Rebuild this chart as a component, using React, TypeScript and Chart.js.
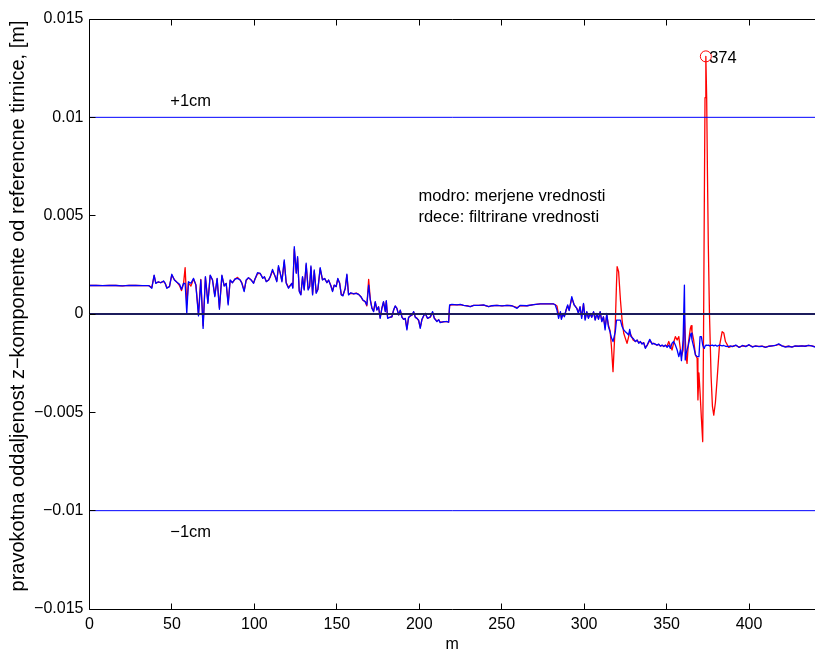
import React, { useEffect, useRef } from 'react';
import { Chart, registerables } from 'chart.js';

Chart.register(...registerables);

// distance along the track [m]
const distance = [
  0, 4, 8, 12, 16, 20, 24, 28, 32, 36, 37.8, 39.2, 40.2, 41.8, 43.2, 44.9, 45.9, 46.9, 48.5, 49.9,
  51.5, 53.0, 54.6, 55.8, 57.0, 58.0, 59.0, 60.0, 61.5, 63.1, 64.5, 66.1, 67.5, 68.9, 70.3, 71.8, 73.2, 74.6, 76.0, 77.4,
  78.8, 80.3, 81.7, 82.9, 84.1, 85.3, 86.7, 88.3, 89.8, 91.4, 92.4, 93.8, 95.0, 96.4, 98.0, 99.5, 100.5, 101.9, 103.5, 105.1,
  106.1, 107.2, 108.6, 109.6, 111.0, 112.6, 113.6, 114.6, 115.7, 116.7, 118.1, 119.3, 120.7, 122.7, 123.3, 124.2, 125.4, 126.2, 127.2, 128.2,
  129.2, 130.2, 131.4, 132.6, 133.5, 134.3, 135.3, 136.3, 137.5, 138.5, 139.9, 141.3, 142.6, 144.0, 145.0, 146.4, 147.4, 148.4, 149.6, 150.6,
  151.7, 152.7, 153.7, 155.1, 156.1, 157.1, 158.5, 160.2, 161.8, 163.2, 164.6, 165.8, 167.2, 168.2, 169.3, 170.3, 171.3, 172.3, 173.3, 174.3,
  175.3, 176.3, 177.3, 178.3, 179.4, 180.0, 180.8, 182.0, 183.4, 184.4, 185.4, 186.4, 187.5, 188.5, 189.5, 190.5, 191.5, 192.5, 193.5, 194.5,
  195.6, 196.6, 197.6, 198.6, 199.6, 200.6, 201.6, 202.6, 203.6, 205.0, 206.7, 208.1, 209.1, 210.7, 211.8, 212.7, 214.8, 216.8, 217.8, 218.4,
  219.8, 222.9, 224.9, 226.9, 228.9, 230.9, 233.0, 236.0, 239.0, 242.1, 244.1, 247.1, 250.2, 253.2, 256.2, 259.3, 261.3, 265.3, 269.4, 273.4,
  277.5, 281.5, 282.5, 283.5, 284.5, 285.6, 286.2, 287.2, 288.0, 289.0, 290.0, 290.9, 292.5, 293.9, 295.5, 296.5, 297.5, 298.5, 299.6, 300.6,
  301.6, 302.6, 303.6, 304.6, 305.7, 306.7, 307.7, 308.7, 309.7, 310.7, 311.7, 312.7, 313.7, 314.7, 315.7, 316.5, 317.5, 318.9, 319.6, 320.0,
  320.9, 322.0, 323.0, 324.0, 325.0, 326.0, 327.0, 327.6, 328.4, 329.7, 331.1, 332.1, 333.1, 334.1, 335.1, 336.1, 337.1, 338.2, 339.8, 341.2,
  342.2, 344.2, 345.2, 346.2, 347.3, 348.3, 349.3, 350.3, 351.3, 352.3, 353.3, 354.3, 355.3, 356.4, 357.4, 358.4, 359.0, 360.0, 360.8, 361.3,
  361.9, 362.4, 363.2, 364.4, 364.9, 365.4, 366.4, 367.5, 368.5, 369.0, 369.6, 370.3, 371.1, 371.9, 372.4, 372.9, 373.3, 373.8, 374.3, 374.8,
  375.3, 376.0, 377.0, 377.8, 378.6, 379.6, 380.6, 382.0, 383.7, 384.7, 385.7, 387.7, 388.7, 390, 392, 394, 396, 398, 400, 402,
  404, 406, 408, 410, 412, 414, 416, 418, 420, 422, 424, 426, 428, 430, 432, 434, 436, 438, 440,
];

// modro: measured values [mm]
const measured = [
  1.45, 1.46, 1.44, 1.46, 1.45, 1.43, 1.46, 1.45, 1.44, 1.44, 1.31, 1.98, 1.56, 1.64, 1.59, 1.68, 1.56, 1.31, 1.39, 2.02,
  1.73, 1.61, 1.51, 1.25, 1.56, 1.55, 0.03, 1.64, 1.56, 1.81, 1.47, -0.10, 1.73, -0.73, 1.90, 0.54, 1.98, 1.73, 0.88, 1.81,
  0.24, 1.98, 1.42, 1.56, 0.46, 1.73, 1.59, 1.78, 1.81, 1.73, 1.56, 1.14, 1.73, 1.85, 1.73, 1.56, 1.81, 2.10, 2.07, 1.81,
  1.90, 1.64, 1.73, 1.90, 2.27, 1.90, 1.64, 2.46, 2.07, 1.64, 2.75, 1.56, 1.31, 1.56, 1.31, 3.42, 2.07, 2.92, 1.14, 0.97,
  1.90, 1.22, 2.58, 1.22, 1.39, 2.44, 0.97, 2.24, 1.05, 1.25, 2.36, 1.73, 1.81, 1.59, 1.73, 1.42, 1.14, 1.47, 1.39, 1.81,
  1.56, 0.97, 0.92, 1.31, 2.03, 0.97, 1.08, 1.02, 1.05, 1.00, 0.88, 0.71, 0.63, 0.46, 1.47, 0.71, 0.29, 0.12, 0.63, 0.20,
  0.37, -0.22, 0.29, 0.63, 0.12, 0.68, -0.22, -0.17, -0.14, 0.20, 0.41, 0.29, -0.05, 0.20, -0.17, -0.27, -0.22, -0.81, -0.17, -0.10,
  -0.05, 0.12, -0.17, -0.22, -0.31, -0.73, -0.27, -0.10, 0.03, -0.22, -0.14, 0.12, -0.22, -0.39, -0.29, -0.44, -0.39, -0.39, -0.42, 0.46,
  0.49, 0.46, 0.49, 0.44, 0.41, 0.37, 0.44, 0.44, 0.46, 0.37, 0.42, 0.44, 0.41, 0.44, 0.42, 0.29, 0.44, 0.42, 0.48, 0.51,
  0.51, 0.51, 0.46, 0.20, -0.22, 0.12, -0.27, 0.03, -0.14, 0.20, 0.46, 0.17, 0.88, 0.46, 0.29, 0.03, 0.37, -0.22, 0.54, -0.31,
  0.12, -0.22, 0.03, -0.17, 0.12, -0.31, 0.03, -0.27, 0.12, -0.39, -0.14, -0.81, 0.03, -0.64, -0.90, -1.20, -1.40, -0.90, -0.31, -0.31,
  -0.31, -0.31, -0.64, -0.81, -0.90, -0.98, -1.07, -0.78, -1.15, -1.24, -1.40, -1.32, -1.49, -1.40, -1.53, -1.46, -1.75, -1.58, -1.29, -1.53,
  -1.49, -1.58, -1.53, -1.63, -1.58, -1.66, -1.58, -1.70, -1.58, -1.75, -1.49, -1.40, -1.58, -1.83, -2.17, -1.83, -2.37, -1.32, 1.47, -2.34,
  -2.00, -1.83, -1.58, -1.07, -0.98, -1.32, -1.66, -2.08, -2.17, -2.17, -2.17, -1.15, -1.15, -1.58, -1.70, -1.75, -1.62, -1.58, -1.58, -1.60,
  -1.58, -1.62, -1.60, -1.58, -1.62, -1.58, -1.64, -1.58, -1.62, -1.60, -1.64, -1.66, -1.62, -1.66, -1.58, -1.70, -1.60, -1.66, -1.56, -1.68,
  -1.62, -1.66, -1.64, -1.70, -1.64, -1.62, -1.60, -1.52, -1.62, -1.68, -1.64, -1.68, -1.62, -1.64, -1.62, -1.64, -1.60, -1.62, -1.68,
];

// rdece: filtered values [mm]
const filtered = [
  1.45, 1.46, 1.44, 1.46, 1.45, 1.43, 1.46, 1.45, 1.44, 1.44, 1.35, 1.95, 1.58, 1.62, 1.60, 1.66, 1.56, 1.33, 1.40, 1.98,
  1.74, 1.62, 1.45, 1.19, 1.52, 2.36, 0.50, 1.58, 1.42, 1.78, 1.50, 0.00, 1.76, -0.60, 1.86, 0.60, 1.95, 1.74, 0.95, 1.78,
  0.32, 1.94, 1.45, 1.55, 0.55, 1.70, 1.60, 1.78, 1.86, 1.72, 1.58, 1.20, 1.70, 1.84, 1.74, 1.58, 1.80, 2.05, 2.06, 1.83,
  1.88, 1.66, 1.72, 1.88, 2.20, 1.92, 1.68, 2.38, 2.08, 1.68, 2.65, 1.60, 1.35, 1.55, 1.35, 3.30, 2.10, 2.85, 1.20, 1.00,
  1.86, 1.26, 2.50, 1.28, 1.40, 2.38, 1.02, 2.18, 1.10, 1.25, 2.30, 1.75, 1.80, 1.60, 1.72, 1.45, 1.18, 1.46, 1.40, 1.78,
  1.58, 1.00, 0.95, 1.30, 1.98, 1.02, 1.05, 1.03, 1.06, 1.00, 0.88, 0.70, 0.62, 0.41, 1.76, 0.75, 0.30, 0.15, 0.60, 0.22,
  0.36, -0.18, 0.28, 0.60, 0.14, 0.64, -0.18, -0.17, -0.14, 0.18, 0.40, 0.30, -0.04, 0.18, -0.15, -0.27, -0.24, -0.75, -0.20, -0.10,
  -0.06, 0.10, -0.16, -0.22, -0.33, -0.68, -0.30, -0.10, 0.03, -0.22, -0.16, 0.08, -0.20, -0.36, -0.30, -0.42, -0.40, -0.38, -0.42, 0.42,
  0.48, 0.46, 0.48, 0.44, 0.42, 0.38, 0.44, 0.44, 0.45, 0.38, 0.42, 0.44, 0.41, 0.44, 0.42, 0.32, 0.43, 0.42, 0.48, 0.51,
  0.51, 0.51, 0.47, 0.41, -0.05, 0.05, -0.22, 0.02, -0.12, 0.18, 0.42, 0.20, 0.80, 0.48, 0.30, 0.08, 0.35, -0.15, 0.50, -0.25,
  0.10, -0.20, 0.02, -0.16, 0.10, -0.28, 0.02, -0.25, 0.10, -0.35, -0.15, -0.70, -0.05, -0.55, -0.85, -1.60, -2.93, -0.47, 1.50, 2.41,
  2.15, 0.71, -0.31, -0.98, -1.24, -1.49, -1.15, -0.90, -1.07, -1.32, -1.40, -1.33, -1.46, -1.42, -1.50, -1.46, -1.70, -1.60, -1.35, -1.50,
  -1.50, -1.58, -1.54, -1.62, -1.60, -1.64, -1.60, -1.62, -1.40, -1.63, -1.83, -1.45, -1.15, -1.32, -1.15, -1.83, -2.17, -1.83, 0.00, -1.20,
  -2.20, -2.51, -1.49, -0.73, -0.59, -0.90, -1.32, -2.08, -2.25, -4.37, -3.00, -4.00, -5.30, -6.49, -1.00, 6.00, 11.00, 13.10, 11.00, 7.00,
  3.50, 0.00, -3.20, -4.70, -5.14, -4.50, -3.36, -1.66, -0.90, -0.97, -1.40, -1.70, -1.66, -1.64, -1.60, -1.68, -1.62, -1.64, -1.58, -1.66,
  -1.63, -1.65, -1.64, -1.68, -1.64, -1.62, -1.60, -1.55, -1.62, -1.66, -1.64, -1.67, -1.63, -1.64, -1.62, -1.64, -1.60, -1.62, -1.66,
];

const referenceLevels = [0.01, 0, -0.01];
const referenceColors = ['#0000ff', '#1c1c5c', '#0000ff'];

const xTickValues = [0, 50, 100, 150, 200, 250, 300, 350, 400];
const xTickLabels = ['0', '50', '100', '150', '200', '250', '300', '350', '400'];
const yTickValues = [0.015, 0.01, 0.005, 0, -0.005, -0.01, -0.015];
const yTickLabels = ['0.015', '0.01', '0.005', '0', '\u22120.005', '\u22120.01', '\u22120.015'];

const peakX = [373.8];
const peakY = [13.1]; // mm

const noteTexts = ['+1cm', '\u22121cm', 'modro: merjene vrednosti', 'rdece: filtrirane vrednosti', '374'];
const noteX = [49, 49, 199.5, 199.5, 375.8];
const noteY = [0.0108, -0.0111, 0.00597, 0.00493, 0.01297];

const xTitle = 'm';
const yTitle = 'pravokotna oddaljenost z\u2212komponente od referencne tirnice, [m]';

const FONT_FAMILY = '"Liberation Sans", Arial, Helvetica, sans-serif';
const FONT_SIZE = 16;
const NOTE_FONT_SIZE = 16.5;
const YTITLE_FONT_SIZE = 20;

const matlabAxes = {
  id: 'matlabAxes',
  afterDraw(chart: any) {
    const { ctx, chartArea: a, scales } = chart;
    const xs = scales.x;
    const ys = scales.y;
    ctx.save();
    ctx.strokeStyle = '#000';
    ctx.lineWidth = 1;
    const L = Math.floor(a.left) + 0.5;
    const T = Math.floor(a.top) + 0.5;
    const B = Math.floor(a.bottom) + 0.5;
    const R = chart.width + 2;
    ctx.beginPath();
    ctx.moveTo(R, T);
    ctx.lineTo(L, T);
    ctx.lineTo(L, B);
    ctx.lineTo(R, B);
    const tl = 6;
    xTickValues.forEach((v) => {
      const px = Math.floor(xs.getPixelForValue(v)) + 0.5;
      ctx.moveTo(px, B);
      ctx.lineTo(px, B - tl);
      ctx.moveTo(px, T);
      ctx.lineTo(px, T + tl);
    });
    yTickValues.forEach((v) => {
      const py = Math.floor(ys.getPixelForValue(v)) + 0.5;
      ctx.moveTo(L, py);
      ctx.lineTo(L + tl, py);
    });
    ctx.stroke();

    ctx.fillStyle = '#000';
    // x tick labels
    ctx.font = `${FONT_SIZE}px ${FONT_FAMILY}`;
    ctx.textAlign = 'center';
    ctx.textBaseline = 'top';
    xTickValues.forEach((v, i) => {
      ctx.fillText(xTickLabels[i], xs.getPixelForValue(v), a.bottom + 8);
    });

    // annotations
    ctx.font = `${NOTE_FONT_SIZE}px ${FONT_FAMILY}`;
    ctx.textAlign = 'left';
    ctx.textBaseline = 'middle';
    noteTexts.forEach((t, i) => {
      ctx.fillText(t, xs.getPixelForValue(noteX[i]), ys.getPixelForValue(noteY[i]));
    });

    // y axis title
    ctx.save();
    ctx.font = `${YTITLE_FONT_SIZE}px ${FONT_FAMILY}`;
    ctx.textAlign = 'center';
    ctx.textBaseline = 'middle';
    ctx.translate(18, (a.top + a.bottom) / 2 - 8);
    ctx.rotate(-Math.PI / 2);
    ctx.fillText(yTitle, 0, 0);
    ctx.restore();

    ctx.restore();
  },
};

export default function App() {
  const canvasRef = useRef<HTMLCanvasElement | null>(null);

  useEffect(() => {
    const canvas = canvasRef.current;
    if (!canvas) return;

    const lineData = (vals: number[]) => distance.map((x, i) => ({ x, y: vals[i] / 1000 }));

    const refSets = referenceLevels.map((lvl, i) => ({
      label: 'ref' + i,
      data: [
        { x: 0, y: lvl },
        { x: 440, y: lvl },
      ],
      borderColor: referenceColors[i],
      borderWidth: lvl === 0 ? 2 : 1,
      pointRadius: 0,
      fill: false,
    }));

    const chart = new Chart(canvas, {
      type: 'line',
      data: {
        datasets: [
          {
            label: 'peak',
            data: peakX.map((x, i) => ({ x, y: peakY[i] / 1000 })),
            showLine: false,
            pointRadius: 5.5,
            pointBorderColor: '#ff0000',
            pointBackgroundColor: 'rgba(0,0,0,0)',
            pointBorderWidth: 1,
          },
          ...refSets,
          {
            label: 'modro',
            data: lineData(measured),
            borderColor: '#0000ff',
            borderWidth: 1.3,
            pointRadius: 0,
            borderJoinStyle: 'round',
            fill: false,
          },
          {
            label: 'rdece',
            data: lineData(filtered),
            borderColor: '#ff0000',
            borderWidth: 1.3,
            pointRadius: 0,
            borderJoinStyle: 'round',
            fill: false,
          },
        ] as any,
      },
      options: {
        animation: false,
        responsive: false,
        maintainAspectRatio: false,
        devicePixelRatio: 1,
        layout: { autoPadding: false, padding: { top: 19, right: 0, left: 0, bottom: 0 } },
        plugins: {
          legend: { display: false },
          tooltip: { enabled: false },
        },
        scales: {
          x: {
            type: 'linear',
            min: 0,
            max: 440,
            grid: { display: false, drawTicks: false },
            border: { display: false },
            afterBuildTicks: (s: any) => {
              s.ticks = xTickValues.map((v) => ({ value: v }));
            },
            afterFit: (s: any) => {
              s.height = 40;
              s.paddingLeft = 0;
              s.paddingRight = 0;
            },
            ticks: { display: false },
            title: {
              display: true,
              text: xTitle,
              color: '#000',
              padding: { top: 0, bottom: -5 },
              font: { family: FONT_FAMILY, size: FONT_SIZE },
            },
          },
          y: {
            type: 'linear',
            min: -0.015,
            max: 0.015,
            grid: { display: false, drawTicks: false },
            border: { display: false },
            afterBuildTicks: (s: any) => {
              s.ticks = yTickValues.map((v) => ({ value: v }));
            },
            afterFit: (s: any) => {
              s.width = 89.5;
              s.paddingTop = 0;
              s.paddingBottom = 0;
            },
            ticks: {
              autoSkip: false,
              padding: 6,
              color: '#000',
              font: { family: FONT_FAMILY, size: FONT_SIZE },
              callback: (v: any) => {
                const i = yTickValues.findIndex((t) => Math.abs(t - Number(v)) < 1e-9);
                return i >= 0 ? yTickLabels[i] : '';
              },
            },
            title: { display: false },
          },
        },
      } as any,
      plugins: [matlabAxes],
    });

    return () => chart.destroy();
  }, []);

  return (
    <div style={{ position: 'fixed', left: 0, top: 0, width: 815, height: 649, background: '#fff' }}>
      <canvas ref={canvasRef} width={815} height={649} style={{ display: 'block', width: 815, height: 649 }} />
    </div>
  );
}
